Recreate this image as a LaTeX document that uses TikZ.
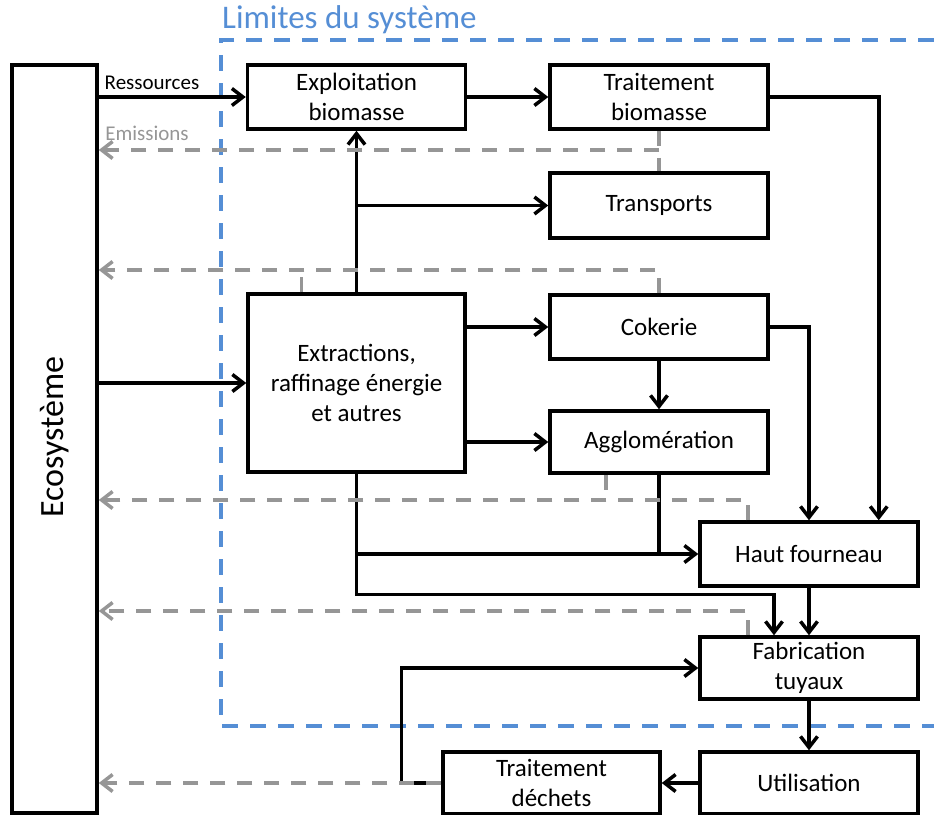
\documentclass[tikz,border=0pt]{standalone}
\usepackage{fontspec}
\setmainfont{Carlito}
\usetikzlibrary{arrows.meta}
\definecolor{limitblue}{RGB}{85,142,213}
\definecolor{emgray}{RGB}{150,150,150}

\begin{document}
\begin{tikzpicture}[
        x=1pt, y=-1pt,
        >={Straight Barb[length=11pt,width=17pt]},
        box/.style={rectangle, draw, line width=3.5pt, minimum width=218pt, minimum height=64pt,
            inner sep=0pt, align=center, font=\fontsize{25}{30}\selectfont},
        flow/.style={line width=3.5pt, ->},
        link/.style={line width=3.5pt},
        emission/.style={emgray, line width=3.5pt, dash pattern=on 15pt off 12pt},
        limit/.style={limitblue, line width=3.5pt, dash pattern=on 16pt off 12pt},
        smalltext/.style={font=\fontsize{21}{25}\selectfont, inner sep=0pt}
    ]
    \useasboundingbox (0,0) rectangle (934,814);

    % system boundary
    \draw[limit] (934,40) -- (221,40) -- (221,726) -- (934,726);
    \node[limitblue, anchor=west, inner sep=0pt, font=\fontsize{33}{38}\selectfont] (limtitle) at (222,20) {Limites du système};

    % boxes
    \node[box, minimum width=85pt, minimum height=748pt] (eco) at (54.5,439) {};
    \node[rotate=90, font=\fontsize{34}{40}\selectfont] (ecolabel) at (55,437) {Ecosystème};
    \node[box] (exploit) at (356.5,97) {Exploitation\\biomasse};
    \node[box] (traitbio) at (659,97) {Traitement\\biomasse};
    \node[box, minimum height=65pt] (transp) at (659,205.5) {Transports};
    \node[box, minimum width=217pt, minimum height=178pt] (extr) at (356.5,383) {Extractions,\\raffinage énergie\\et autres};
    \node[box] (coke) at (659,327) {Cokerie};
    \node[box, minimum height=62pt] (agglo) at (659,442) {Agglomération};
    \node[box] (haut) at (809,554) {Haut fourneau};
    \node[box, minimum height=62pt] (fab) at (809,668) {Fabrication\\tuyaux};
    \node[box, minimum height=62pt] (util) at (809,783) {Utilisation};
    \node[box, minimum width=217pt, minimum height=62pt] (dechets) at (551.5,783) {Traitement\\déchets};

    \node[smalltext] (res) at (152,83) {Ressources};
    \node[smalltext, emgray] (emis) at (147,133) {Emissions};

    % material flows
    \draw[flow] (eco.east |- exploit.west) -- (exploit.west);
    \draw[flow] (exploit) -- (traitbio);
    \draw[flow] (traitbio.east) -| ([xshift=-41pt]haut.north east);
    \draw[flow] (extr) -- (exploit);
    \draw[flow] (extr.north |- transp) -- (transp);
    \draw[flow] (eco.east |- extr) -- (extr);
    \draw[flow] (extr.east |- coke) -- (coke);
    \draw[flow] (extr.east |- agglo) -- (agglo);
    \draw[flow] (coke) -- (agglo);
    \draw[flow] (coke.east) -| (haut.north);
    \draw[flow] (extr.south) |- (haut.west);
    \draw[link] (agglo.south) -- (agglo.south |- haut.west);
    \coordinate (fabin) at ([xshift=-35pt]fab.north);
    \draw[flow] (extr.south) |- ([yshift=41pt]fabin) -- (fabin);
    \draw[flow] (haut) -- (fab);
    \draw[flow] (fab) -- (util);
    \draw[flow] (util) -- (dechets);
    \draw[flow] (dechets.west) -- ++(-40,0) |- (fab.west);

    % emissions
    \coordinate (em1) at (659,150);
    \coordinate (em2) at (659,270);
    \coordinate (em3) at (748,500);
    \coordinate (em4) at (748,611);
    \draw[emission] (traitbio) -- (transp);
    \draw[emission, ->] (em1) -- (eco.east |- em1);
    \draw[emission, ->] (coke.north) -- (em2) -- (eco.east |- em2);
    \draw[emission] ([xshift=-55pt]extr.north) -- ([xshift=-55pt]extr.north |- em2);
    \draw[emission, ->] (haut.north -| em3) -- (em3) -- (eco.east |- em3);
    \draw[emission] ([xshift=-53pt]agglo.south) -- ([xshift=-53pt]agglo.south |- em3);
    \draw[emission, ->] (fab.north -| em4) -- (em4) -- (eco.east |- em4);
    \draw[emission, ->] (dechets.west) -- (eco.east |- dechets.west);

\end{tikzpicture}
\end{document}
